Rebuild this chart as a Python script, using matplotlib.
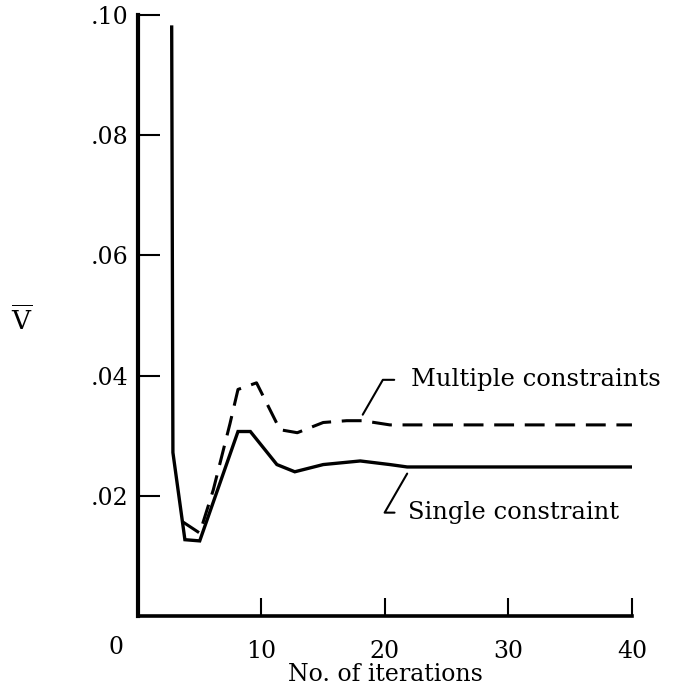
import matplotlib
matplotlib.use("Agg")
import matplotlib.pyplot as plt

# data
single_x = [2.73, 2.83, 3.8, 5.0, 8.1, 9.1, 11.25, 12.7, 15.0, 18.0, 20.4, 21.8, 40.0]
single_y = [0.098, 0.0272, 0.0127, 0.0125, 0.0307, 0.0307, 0.0252, 0.0240, 0.0252, 0.0258, 0.0252, 0.0248, 0.0248]

multi_x = [3.6, 5.0, 6.1, 7.45, 8.1, 9.6, 11.5, 12.9, 15.0, 16.9, 18.2, 20.4, 40.0]
multi_y = [0.0157, 0.0138, 0.021, 0.032, 0.0377, 0.0388, 0.031, 0.0305, 0.0322, 0.0325, 0.0325, 0.0318, 0.0318]

xticks = [10, 20, 30, 40]
yticks = [0.02, 0.04, 0.06, 0.08, 0.10]
ytick_labels = [".02", ".04", ".06", ".08", ".10"]

plt.rcParams['font.family'] = ['DejaVu Serif']
plt.rcParams['mathtext.fontset'] = 'dejavuserif'

fig = plt.figure(figsize=(6.82, 6.92), dpi=100)
ax = fig.add_axes([0.2023, 0.1098, 0.7243, 0.8685])

ax.plot(single_x, single_y, color='black', lw=2.4, solid_joinstyle='miter')
ax.plot(multi_x, multi_y, color='black', lw=2.2, dashes=(6.5, 3.5))

ax.set_xlim(0, 40)
ax.set_ylim(0, 0.10)
ax.spines['top'].set_visible(False)
ax.spines['right'].set_visible(False)
ax.spines['left'].set_linewidth(3.0)
ax.spines['bottom'].set_linewidth(2.6)

ax.set_xticks(xticks)
ax.set_xticklabels([str(t) for t in xticks])
ax.set_yticks(yticks)
ax.set_yticklabels(ytick_labels)
ax.tick_params(axis='x', direction='in', length=13, width=1.5, pad=17, labelsize=17)
ax.tick_params(axis='y', direction='in', length=16, width=1.5, pad=7, labelsize=17)

# the "0" at the origin sits to the left of the axis
ax.text(-1.8, -0.0053, "0", ha='center', va='center', fontsize=17, clip_on=False)

ax.set_xlabel("No. of iterations", fontsize=17, labelpad=0)
fig.text(22 / 682, 1 - 320 / 692, r"$\overline{\mathrm{V}}$", fontsize=19, ha='center', va='center')

# labels with leader lines
ax.annotate("Multiple constraints", xy=(18.2, 0.0335), xytext=(22.1, 0.0393),
            fontsize=17.5, va='center', ha='left',
            arrowprops=dict(arrowstyle='-', lw=1.5, color='black',
                            connectionstyle='angle,angleA=0,angleB=60,rad=0',
                            shrinkA=10, shrinkB=0))
ax.annotate("Single constraint", xy=(21.8, 0.0237), xytext=(21.9, 0.0172),
            fontsize=17.5, va='center', ha='left',
            arrowprops=dict(arrowstyle='-', lw=1.5, color='black',
                            connectionstyle='angle,angleA=0,angleB=60,rad=0',
                            shrinkA=8, shrinkB=0))

fig.savefig("out.png", dpi=100)
